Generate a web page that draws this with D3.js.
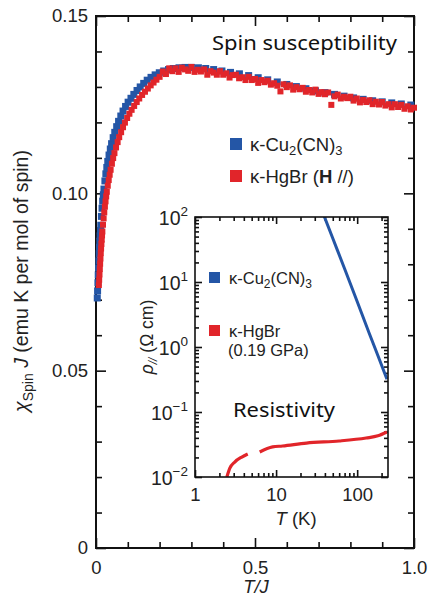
<!DOCTYPE html>
<html><head><meta charset="utf-8">
<script src="https://cdn.jsdelivr.net/npm/d3@7"></script>
<style>body{margin:0;background:#fff} svg{display:block}</style>
</head><body><svg id="c" width="428" height="598"></svg>
<script>
// ---------------- DATA ----------------
const blueT = [0.004,0.005,0.006,0.007,0.008,0.009,0.010,0.011,0.012,0.013,0.014,0.015,0.017,0.019,0.021,0.023,0.025,0.028,0.031,0.034,0.037,0.041,0.045,0.049,0.054,0.059,0.065,0.071,0.078,0.085,0.093,0.101,0.110,0.119,0.129,0.139,0.150,0.161,0.173,0.186,0.199,0.213,0.228,0.243,0.261,0.280,0.300,0.322,0.345,0.370,0.396,0.423,0.451,0.480,0.510,0.540,0.570,0.600,0.630,0.660,0.690,0.720,0.750,0.780,0.810,0.840,0.870,0.900,0.930,0.960,0.990];
const blueChi = [0.0705,0.0725,0.0748,0.0770,0.0790,0.0810,0.0830,0.0848,0.0865,0.0880,0.0895,0.0910,0.0935,0.0958,0.0978,0.0996,0.1012,0.1035,0.1055,0.1073,0.1090,0.1108,0.1125,0.1140,0.1157,0.1172,0.1188,0.1203,0.1218,0.1232,0.1245,0.1257,0.1268,0.1279,0.1290,0.1300,0.1310,0.1319,0.1327,0.1334,0.1340,0.1345,0.1349,0.1352,0.1354,0.1355,0.1355,0.1354,0.1352,0.1349,0.1345,0.1341,0.1337,0.1332,0.1326,0.1320,0.1314,0.1307,0.1301,0.1295,0.1289,0.1284,0.1279,0.1274,0.1269,0.1265,0.1261,0.1258,0.1255,0.1252,0.1249];

const redT = [0.009,0.010,0.011,0.012,0.013,0.014,0.015,0.016,0.017,0.018,0.019,0.020,0.022,0.024,0.026,0.028,0.030,0.032,0.034,0.037,0.040,0.043,0.046,0.050,0.054,0.058,0.063,0.068,0.073,0.079,0.085,0.091,0.098,0.105,0.112,0.120,0.128,0.136,0.145,0.154,0.163,0.172,0.181,0.190,0.200,
0.21,0.22,0.23,0.24,0.25,0.26,0.27,0.28,0.29,0.30,0.31,0.32,0.33,0.34,0.35,0.36,0.37,0.38,0.39,0.40,0.41,0.42,0.43,0.44,0.45,0.46,0.47,0.48,0.49,0.50,0.51,0.52,0.53,0.54,0.55,0.56,0.57,0.58,0.59,0.60,0.61,0.62,0.63,0.64,0.65,0.66,0.67,0.68,0.69,0.70,0.71,0.72,0.73,0.74,0.75,0.76,0.77,0.78,0.79,0.80,0.81,0.82,0.83,0.84,0.85,0.86,0.87,0.88,0.89,0.90,0.91,0.92,0.93,0.94,0.95,0.96,0.97,0.98,0.99,1.00];
const redChi = [0.0740,0.0755,0.0770,0.0785,0.0800,0.0815,0.0830,0.0843,0.0856,0.0868,0.0880,0.0891,0.0910,0.0928,0.0945,0.0961,0.0976,0.0990,0.1003,0.1020,0.1036,0.1051,0.1065,0.1082,0.1098,0.1112,0.1128,0.1143,0.1157,0.1171,0.1185,0.1198,0.1211,0.1223,0.1234,0.1245,0.1256,0.1266,0.1276,0.1285,0.1294,0.1303,0.1311,0.1319,0.1327,
0.1342,0.1335,0.1351,0.1343,0.1351,0.1341,0.1353,0.1348,0.1344,0.1355,0.1341,0.1347,0.1342,0.1348,0.1333,0.1343,0.1339,0.1333,0.1343,0.1333,0.1337,0.1325,0.1332,0.1333,0.1323,0.1326,0.1318,0.1327,0.1318,0.1321,0.1310,0.1318,0.1312,0.1316,0.1305,0.1309,0.1302,0.1286,0.1306,0.1298,0.1303,0.1291,0.1298,0.1292,0.1296,0.1285,0.1290,0.1283,0.1291,0.1279,0.1284,0.1278,0.1283,0.1248,0.1272,0.1277,0.1266,0.1271,0.1267,0.1271,0.1260,0.1266,0.1255,0.1262,0.1256,0.1261,0.1250,0.1257,0.1249,0.1256,0.1246,0.1250,0.1241,0.1250,0.1242,0.1248,0.1237,0.1244,0.1235,0.1240];

// inset: resistivity vs T (K)
const insBlueT = [36, 50, 70, 100, 140, 180, 233];
const insBlueRho = [135, 47, 16, 5.0, 1.66, 0.74, 0.32];
const insRed1T = [2.47, 2.69, 3.09, 3.78, 4.47];
const insRed1Rho = [0.0100, 0.0137, 0.0170, 0.0203, 0.0226];
const insRed2T = [6.28, 9.06, 12.0, 23.7, 60.1, 129, 180, 233];
const insRed2Rho = [0.0243, 0.0290, 0.0300, 0.0333, 0.0358, 0.0398, 0.0430, 0.0492];

const mainXMajor = [0, 0.5, 1.0], mainXLabels = ["0", "0.5", "1.0"];
const mainXMinor = [0.1,0.2,0.3,0.4,0.6,0.7,0.8,0.9];
const mainYMajor = [0, 0.05, 0.10, 0.15], mainYLabels = ["0", "0.05", "0.10", "0.15"];
const mainYMinor = [0.01,0.02,0.03,0.04,0.06,0.07,0.08,0.09,0.11,0.12,0.13,0.14];
const insXMajor = [1, 10, 100], insXLabels = ["1", "10", "100"];
const insYMajor = [0.01, 0.1, 1, 10, 100], insYExp = ["\u22122", "\u22121", "0", "1", "2"];

const BLUE = "#2456a6", RED = "#e1252a";

// ---------------- DRAW ----------------
const svg = d3.select("#c");
const F = "'Liberation Sans', Arial, sans-serif";
const FJ = "'Noto Sans', 'DejaVu Sans', sans-serif";
const M = {l: 96, r: 414, t: 16, b: 548};
const x = d3.scaleLinear().domain([0, 1]).range([M.l, M.r]);
const y = d3.scaleLinear().domain([0, 0.15]).range([M.b, M.t]);

function axisGroup(gen, tx, ty) {
  const g = svg.append("g").attr("transform", `translate(${tx},${ty})`).call(gen);
  g.select(".domain").remove();
  g.selectAll("line").attr("stroke", "#111").attr("stroke-width", 1.6);
  return g;
}
// main axes
const bx = axisGroup(d3.axisBottom(x).tickValues(mainXMajor).tickSize(-10).tickPadding(12).tickFormat((d,i)=>mainXLabels[i]), 0, M.b);
axisGroup(d3.axisBottom(x).tickValues(mainXMinor).tickSize(-6).tickFormat(""), 0, M.b);
axisGroup(d3.axisTop(x).tickValues(mainXMajor).tickSize(-10).tickFormat(""), 0, M.t);
axisGroup(d3.axisTop(x).tickValues(mainXMinor).tickSize(-6).tickFormat(""), 0, M.t);
const ly = axisGroup(d3.axisLeft(y).tickValues(mainYMajor).tickSize(-10).tickPadding(8).tickFormat((d,i)=>mainYLabels[i]), M.l, 0);
axisGroup(d3.axisLeft(y).tickValues(mainYMinor).tickSize(-6).tickFormat(""), M.l, 0);
axisGroup(d3.axisRight(y).tickValues(mainYMajor).tickSize(-10).tickFormat(""), M.r, 0);
axisGroup(d3.axisRight(y).tickValues(mainYMinor).tickSize(-6).tickFormat(""), M.r, 0);
[bx, ly].forEach(g => g.selectAll("text").attr("font-family", F).attr("font-size", 18.5).attr("fill", "#222"));
bx.selectAll("text").attr("dy", "0.75em");

svg.append("rect").attr("x", M.l).attr("y", M.t).attr("width", M.r - M.l).attr("height", M.b - M.t)
  .attr("fill", "none").attr("stroke", "#111").attr("stroke-width", 2);

// main data
const S = 7;
svg.append("g").selectAll("rect").data(blueT).join("rect")
  .attr("x", (d) => x(d) - S/2).attr("y", (d,i) => y(blueChi[i]) - S/2)
  .attr("width", S).attr("height", S).attr("fill", BLUE);
svg.append("g").selectAll("rect").data(redT).join("rect")
  .attr("x", (d) => x(d) - S/2 + 0.5).attr("y", (d,i) => y(redChi[i]) - S/2)
  .attr("width", S - 1).attr("height", S - 1).attr("fill", RED);

// axis titles
const yl = svg.append("text").attr("transform", "translate(28,281) rotate(-90)")
  .attr("text-anchor", "middle").attr("font-family", F).attr("font-size", 19.5).attr("fill", "#222");
yl.append("tspan").attr("font-style", "italic").text("\u03C7");
yl.append("tspan").attr("font-size", 14).attr("dy", 5).text("Spin");
yl.append("tspan").attr("dy", -5).attr("font-style", "italic").text(" J");
yl.append("tspan").text(" (emu K per mol of spin)");

svg.append("text").attr("x", 256).attr("y", 593).attr("text-anchor", "middle")
  .attr("font-family", F).attr("font-size", 18.5).attr("fill", "#222").attr("font-style", "italic").text("T/J");

svg.append("text").attr("x", 212).attr("y", 50).attr("font-family", FJ)
  .attr("font-size", 20).attr("fill", "#111").attr("textLength", 185).attr("lengthAdjust", "spacingAndGlyphs").text("Spin susceptibility");

// main legend
function legendItem(xs, ys, col, parts, fs) {
  svg.append("rect").attr("x", xs).attr("y", ys).attr("width", 12).attr("height", 12).attr("fill", col);
  const t = svg.append("text").attr("x", xs + 20).attr("y", ys + 13).attr("font-family", F).attr("font-size", fs).attr("fill", "#222");
  parts.forEach(p => {
    const s = t.append("tspan").text(p.t);
    if (p.sub) s.attr("font-size", fs * 0.7).attr("dy", 4);
    if (p.up) s.attr("dy", -4);
    if (p.b) s.attr("font-weight", "bold");
  });
  return t;
}
legendItem(230, 138, BLUE, [{t: "\u03BA-Cu"}, {t: "2", sub: 1}, {t: "(CN)", up: 1}, {t: "3", sub: 1}], 18.5);
legendItem(230, 170, RED, [{t: "\u03BA-HgBr ("}, {t: "H", b: 1}, {t: " //)"}], 18.5);

// ---------------- INSET ----------------
const I = {l: 195, r: 388, t: 217, b: 477};
svg.append("rect").attr("x", I.l).attr("y", I.t).attr("width", I.r - I.l).attr("height", I.b - I.t).attr("fill", "#fff");
const ix = d3.scaleLog().domain([1, 240]).range([I.l, I.r]);
const iy = d3.scaleLog().domain([0.01, 100]).range([I.b, I.t]);
const ixMinor = [], iyMinor = [];
[1, 10, 100].forEach(dec => { for (let k = 2; k <= 9; k++) if (dec * k <= 240) ixMinor.push(dec * k); });
[0.01, 0.1, 1, 10].forEach(dec => { for (let k = 2; k <= 9; k++) iyMinor.push(dec * k); });

const ibx = axisGroup(d3.axisBottom(ix).tickValues(insXMajor).tickSize(-7).tickPadding(10).tickFormat((d,i)=>insXLabels[i]), 0, I.b);
axisGroup(d3.axisBottom(ix).tickValues(ixMinor).tickSize(-4).tickFormat(""), 0, I.b);
axisGroup(d3.axisTop(ix).tickValues(insXMajor).tickSize(-7).tickFormat(""), 0, I.t);
axisGroup(d3.axisTop(ix).tickValues(ixMinor).tickSize(-4).tickFormat(""), 0, I.t);
const ily = axisGroup(d3.axisLeft(iy).tickValues(insYMajor).tickSize(-7).tickPadding(7).tickFormat(""), I.l, 0);
axisGroup(d3.axisLeft(iy).tickValues(iyMinor).tickSize(-4).tickFormat(""), I.l, 0);
axisGroup(d3.axisRight(iy).tickValues(insYMajor).tickSize(-7).tickFormat(""), I.r, 0);
axisGroup(d3.axisRight(iy).tickValues(iyMinor).tickSize(-4).tickFormat(""), I.r, 0);
ibx.selectAll("text").attr("font-family", F).attr("font-size", 18.5).attr("fill", "#222").attr("dy", "0.75em");
ily.selectAll("g.tick").each(function(d, i) {
  const t = d3.select(this).select("text").attr("font-family", F).attr("font-size", 19.5).attr("fill", "#222").attr("dy", "0.4em").attr("x", -7);
  t.text("10");
  t.append("tspan").attr("font-size", 13.5).attr("dy", "-0.7em").text(insYExp[i]);
});
svg.selectAll("line").attr("stroke-linecap", "butt");

svg.append("defs").append("clipPath").attr("id", "ic").append("rect")
  .attr("x", I.l).attr("y", I.t).attr("width", I.r - I.l).attr("height", I.b - I.t);
const ig = svg.append("g").attr("clip-path", "url(#ic)");
const lineB = d3.line().x(d => ix(d[0])).y(d => iy(d[1])).curve(d3.curveMonotoneX);
ig.append("path").datum(insBlueT.map((t, i) => [t, insBlueRho[i]])).attr("d", lineB)
  .attr("fill", "none").attr("stroke", BLUE).attr("stroke-width", 3);
ig.append("path").datum(insRed1T.map((t, i) => [t, insRed1Rho[i]])).attr("d", lineB)
  .attr("fill", "none").attr("stroke", RED).attr("stroke-width", 3.2);
ig.append("path").datum(insRed2T.map((t, i) => [t, insRed2Rho[i]])).attr("d", lineB)
  .attr("fill", "none").attr("stroke", RED).attr("stroke-width", 3.2);

svg.append("rect").attr("x", I.l).attr("y", I.t).attr("width", I.r - I.l).attr("height", I.b - I.t)
  .attr("fill", "none").attr("stroke", "#111").attr("stroke-width", 1.6);

// inset legend
function iLegend(ys, col, parts) {
  svg.append("rect").attr("x", 209).attr("y", ys).attr("width", 11).attr("height", 11).attr("fill", col);
  const t = svg.append("text").attr("x", 229).attr("y", ys + 12).attr("font-family", F).attr("font-size", 16.5).attr("fill", "#222");
  parts.forEach(p => {
    const s = t.append("tspan").text(p.t);
    if (p.sub) s.attr("font-size", 12).attr("dy", 4);
    if (p.up) s.attr("dy", -4);
  });
}
iLegend(272, BLUE, [{t: "\u03BA-Cu"}, {t: "2", sub: 1}, {t: "(CN)", up: 1}, {t: "3", sub: 1}]);
iLegend(325, RED, [{t: "\u03BA-HgBr"}]);
svg.append("text").attr("x", 228).attr("y", 356).attr("font-family", F).attr("font-size", 16.5).attr("fill", "#222").text("(0.19 GPa)");

svg.append("text").attr("x", 233).attr("y", 417).attr("font-family", FJ)
  .attr("font-size", 19).attr("fill", "#111").attr("textLength", 102).attr("lengthAdjust", "spacingAndGlyphs").text("Resistivity");

const iyl = svg.append("text").attr("transform", "translate(153,337) rotate(-90)").attr("text-anchor", "middle")
  .attr("font-family", F).attr("font-size", 17.5).attr("fill", "#222");
iyl.append("tspan").attr("font-style", "italic").text("\u03C1");
iyl.append("tspan").attr("font-size", 12).attr("dy", 4).attr("font-style", "italic").text("//");
iyl.append("tspan").attr("dy", -4).text(" (\u03A9 cm)");

const ixl = svg.append("text").attr("x", 296).attr("y", 525).attr("text-anchor", "middle")
  .attr("font-family", F).attr("font-size", 18.5).attr("fill", "#222");
ixl.append("tspan").attr("font-style", "italic").text("T");
ixl.append("tspan").text(" (K)");
</script></body></html>
